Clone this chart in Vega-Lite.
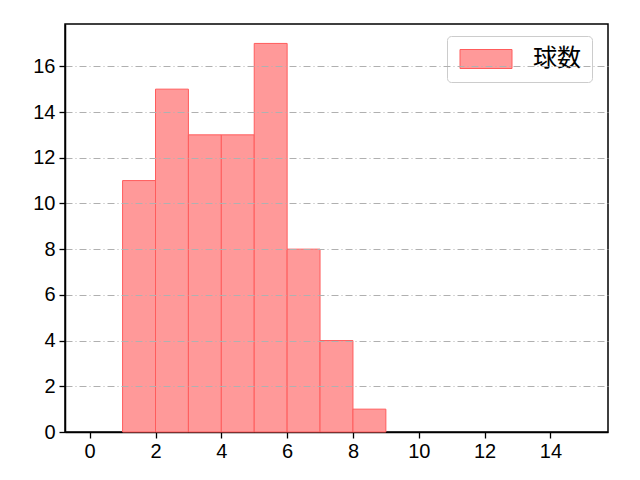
{
  "$schema": "https://vega.github.io/schema/vega-lite/v6.json",
  "width": 543,
  "height": 408,
  "autosize": {"type": "none"},
  "padding": {"left": 65, "top": 24, "right": 32, "bottom": 48},
  "background": "white",
  "data": {
    "values": [
      {"bin_start": 1, "bin_end": 2, "count": 11, "series": "球数"},
      {"bin_start": 2, "bin_end": 3, "count": 15, "series": "球数"},
      {"bin_start": 3, "bin_end": 4, "count": 13, "series": "球数"},
      {"bin_start": 4, "bin_end": 5, "count": 13, "series": "球数"},
      {"bin_start": 5, "bin_end": 6, "count": 17, "series": "球数"},
      {"bin_start": 6, "bin_end": 7, "count": 8, "series": "球数"},
      {"bin_start": 7, "bin_end": 8, "count": 4, "series": "球数"},
      {"bin_start": 8, "bin_end": 9, "count": 1, "series": "球数"}
    ]
  },
  "mark": {
    "type": "bar",
    "stroke": "#ff5c5c",
    "strokeWidth": 1,
    "cornerRadius": 0,
    "opacity": 1
  },
  "encoding": {
    "x": {
      "field": "bin_start",
      "type": "quantitative",
      "scale": {"domain": [-0.75, 15.75], "nice": false, "zero": false},
      "axis": {
        "values": [0, 2, 4, 6, 8, 10, 12, 14],
        "title": null,
        "grid": false,
        "domainColor": "black",
        "domainWidth": 1.5,
        "tickColor": "black",
        "tickWidth": 1.3,
        "tickSize": 6,
        "labelPadding": 3,
        "labelFont": "Liberation Sans",
        "labelFontSize": 20,
        "labelColor": "black"
      }
    },
    "x2": {"field": "bin_end"},
    "y": {
      "field": "count",
      "type": "quantitative",
      "scale": {"domain": [0, 17.85], "nice": false},
      "axis": {
        "values": [0, 2, 4, 6, 8, 10, 12, 14, 16],
        "title": null,
        "zindex": 1,
        "grid": true,
        "gridColor": "#b0b0b0",
        "gridWidth": 1,
        "gridDash": [7, 3, 1, 3],
        "gridOpacity": {"condition": {"test": "datum.value === 0", "value": 0}, "value": 1},
        "domainColor": "black",
        "domainWidth": 1.5,
        "tickColor": "black",
        "tickWidth": 1.3,
        "tickSize": 6,
        "labelPadding": 4,
        "labelFont": "Liberation Sans",
        "labelFontSize": 20,
        "labelColor": "black"
      }
    },
    "y2": {"datum": 0},
    "color": {
      "field": "series",
      "type": "nominal",
      "scale": {"domain": ["球数"], "range": ["#ff9999"]},
      "legend": {
        "title": null,
        "orient": "none",
        "legendX": 382,
        "legendY": 12,
        "padding": 11,
        "fillColor": "rgba(255,255,255,0.8)",
        "strokeColor": "#cccccc",
        "cornerRadius": 4,
        "symbolType": "M-2.6,-0.95H2.6V0.95H-2.6Z",
        "symbolSize": 400,
        "symbolOffset": 16,
        "symbolStrokeColor": "#ff5c5c",
        "symbolStrokeWidth": 1,
        "symbolOpacity": 1,
        "labelOffset": 35,
        "labelFont": "Noto Sans CJK JP",
        "labelFontSize": 24,
        "labelColor": "black",
        "labelLimit": 300
      }
    }
  },
  "config": {
    "view": {"stroke": "black", "strokeWidth": 1.5}
  }
}
